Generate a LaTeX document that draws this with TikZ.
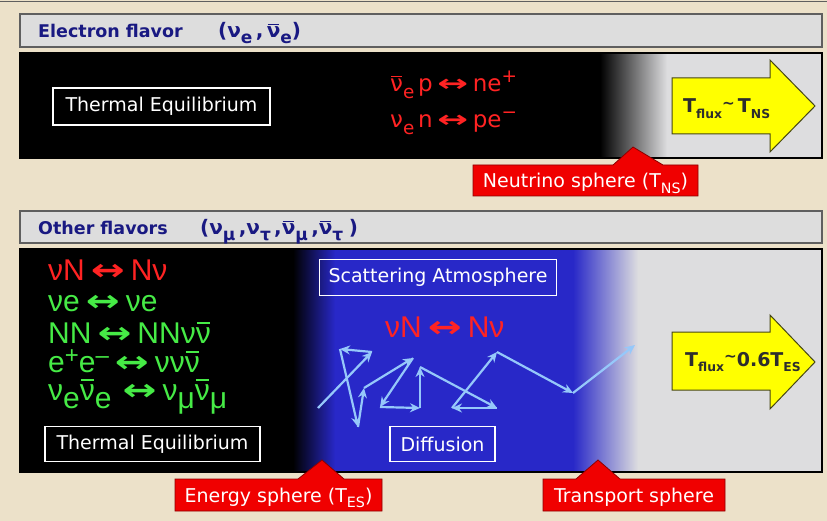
\documentclass[tikz,border=0pt]{standalone}
\usepackage{fontspec}
\setmainfont{DejaVu Sans}
\newfontfamily\libf{Liberation Sans}
\newfontfamily\dejf{DejaVu Sans}
\usepackage{graphicx}
\usetikzlibrary{arrows.meta}
\definecolor{bgtan}{RGB}{236,225,201}
\definecolor{hdrgray}{RGB}{221,221,221}
\definecolor{hdrline}{RGB}{95,95,95}
\definecolor{panelgray}{RGB}{221,221,223}
\definecolor{deepblue}{RGB}{40,40,200}
\definecolor{navy}{RGB}{25,25,130}
\definecolor{rxred}{RGB}{255,35,35}
\definecolor{rxgreen}{RGB}{70,235,70}
\definecolor{zzblue}{RGB}{150,200,250}
\definecolor{callred}{RGB}{240,0,0}
\definecolor{callline}{RGB}{140,0,0}
\definecolor{arrowyellow}{RGB}{255,255,0}
\definecolor{arrowline}{RGB}{70,70,20}
\definecolor{darktext}{RGB}{45,45,45}
\newlength\nbw
\newcommand\nb{\leavevmode\settowidth\nbw{ν}\makebox[\nbw][l]{\makebox[\nbw][c]{\raisebox{0.64em}{\rule{0.85\nbw}{0.075em}}}\hspace*{-\nbw}ν}}
\newcommand\lo[2][0.8]{\raisebox{-0.28em}{\scalebox{#1}{#2}}}
\newcommand\hi[2][0.8]{\raisebox{0.42em}{\scalebox{#1}{#2}}}
\newcommand\hilow[1]{\raisebox{0.3em}{\scalebox{0.8}{#1}}}
\newcommand\lra[1][1.35]{\hspace{0.2em}{\dejf\bfseries\scalebox{#1}[1]{↔}}\hspace{0.2em}}
\newcommand\tl{\raisebox{0.25em}{\scalebox{0.8}{\textasciitilde}}}
\begin{document}
\begin{tikzpicture}[x=1pt,y=-1pt,
  hdrbar/.style={fill=hdrgray,draw=hdrline,line width=1.2pt},
  hdrtext/.style={anchor=base west,inner sep=0pt,text=navy,font=\bfseries\fontsize{17.5}{20}\selectfont},
  hdrsym/.style={anchor=base west,inner sep=0pt,text=navy,font=\bfseries\fontsize{20}{22}\selectfont},
  wbox/.style={draw=white,line width=1.6pt,text=white,inner sep=0pt,font=\fontsize{19}{22}\selectfont},
  rxtop/.style={anchor=base west,inner sep=0pt,text=rxred,font=\fontsize{23}{26}\selectfont},
  rxbig/.style={anchor=base west,inner sep=0pt,font=\libf\fontsize{30}{32}\selectfont},
  yarrow/.style={fill=arrowyellow,draw=arrowline,line width=1pt,line join=miter},
  arrtext/.style={anchor=base west,inner sep=0pt,text=darktext,font=\bfseries\fontsize{19}{22}\selectfont},
  callout/.style={fill=callred,draw=callline,line width=0.8pt},
  calltext/.style={anchor=base,text=white,inner sep=0pt,font=\fontsize{19}{22}\selectfont},
  zz/.style={draw=zzblue,line width=2.2pt,-{Stealth[length=10pt,width=9pt]}},
]
\useasboundingbox (0,0) rectangle (827,521);
\fill[bgtan] (0,0) rectangle (827,521);
\draw[hdrline,line width=1.2pt] (0,1.5) -- (827,1.5);

% header 1
\draw[hdrbar] (20,14) rectangle (822,47);
\node[hdrtext] (h1a) at (38,38) {Electron flavor};
\node[hdrsym] (h1b) at (218,38) {(ν\lo[0.85]{e}\,,\,\nb\lo[0.85]{e})};

% panel 1
\fill[black] (20,53) rectangle (600,158);
\shade[left color=black,right color=panelgray] (600,53) rectangle (667,158);
\fill[panelgray] (667,53) rectangle (822,158);
\draw[line width=1.5pt] (20,53) rectangle (822,158);

\node[wbox,minimum width=217pt,minimum height=37pt] (te1) at (161.5,106.5) {Thermal Equilibrium};
\node[rxtop] (r1) at (390,92) {\nb\lo{e}\,p\lra[1.6]ne\hi{+}};
\node[rxtop] (r2) at (390,128) {ν\lo{e}\,n\lra[1.6]pe\hi{−}};

\draw[yarrow] (672,78) -- (770,78) -- (770,60) -- (815,106) -- (770,152) -- (770,134) -- (672,134) -- cycle;
\node[arrtext] (t1) at (683,113) {T\lo[0.65]{flux}\tl\,T\lo[0.65]{NS}};

\draw[callout] (473,165) -- (613,165) -- (633,147) -- (663,165) -- (698,165) -- (698,196) -- (473,196) -- cycle;
\node[calltext] (c1) at (585.5,188) {Neutrino sphere (T\lo[0.75]{NS})};

% header 2
\draw[hdrbar] (20,211) rectangle (822,243);
\node[hdrtext] (h2a) at (38,235) {Other flavors};
\node[hdrsym] (h2b) at (200,235) {(ν\lo[0.85]{μ}\,,ν\lo[0.85]{τ}\,,\nb\lo[0.85]{μ}\,,\nb\lo[0.85]{τ}\;)};

% panel 2
\fill[black] (20,249) rectangle (293,472);
\shade[left color=black,right color=deepblue] (293,249) rectangle (335,472);
\fill[deepblue] (335,249) rectangle (573,472);
\shade[left color=deepblue,right color=panelgray] (573,249) rectangle (638,472);
\fill[panelgray] (638,249) rectangle (822,472);
\draw[line width=1.5pt] (20,249) rectangle (822,472);

\node[rxbig,text=rxred] (g1) at (48,280) {νN\lra Nν};
\node[rxbig,text=rxgreen] (g2) at (48,311) {νe\lra νe};
\node[rxbig,text=rxgreen] (g3) at (48,343) {NN\lra NNν\nb};
\node[rxbig,text=rxgreen] (g4) at (48,372) {e\hilow{+}e\hilow{–}\lra νν\nb};
\node[rxbig,text=rxgreen] (g5) at (48,400) {ν\lo[1]{e}\nb\lo[1]{e}\,\lra ν\lo[1]{μ}\nb\lo[1]{μ}};

\node[wbox,minimum width=215pt,minimum height=35pt] (te2) at (152.5,444) {Thermal Equilibrium};
\node[wbox,minimum width=237pt,minimum height=36pt] (sa) at (438,277.5) {Scattering Atmosphere};
\node[wbox,minimum width=105pt,minimum height=35pt] (df) at (442.5,444) {Diffusion};
\node[rxbig,text=rxred] (g6) at (385,337) {νN\lra Nν};

% random walk
\coordinate (z1) at (318,408);
\coordinate (z2) at (372,352);
\coordinate (z3) at (340,349);
\coordinate (z4) at (358,427);
\coordinate (z5) at (364,388);
\coordinate (z6) at (413,358);
\coordinate (z7) at (380,407);
\coordinate (z8) at (420,408);
\coordinate (z9) at (420,367);
\coordinate (z10) at (497,408);
\coordinate (z11) at (452,408);
\coordinate (z12) at (497,352);
\coordinate (z13) at (573,393);
\coordinate (z14) at (635,345);
\draw[zz] (z1) -- (z2);
\draw[zz] (z2) -- (z3);
\draw[zz] (z3) -- (z4);
\draw[zz] (z4) -- (z5);
\draw[zz] (z5) -- (z6);
\draw[zz] (z6) -- (z7);
\draw[zz] (z7) -- (z8);
\draw[zz] (z8) -- (z9);
\draw[zz] (z9) -- (z10);
\draw[zz] (z10) -- (z11);
\draw[zz] (z11) -- (z12);
\draw[zz] (z12) -- (z13);
\draw[zz] (z13) -- (z14);

\draw[yarrow] (672,332) -- (770,332) -- (770,315) -- (815,362) -- (770,409) -- (770,390) -- (672,390) -- cycle;
\node[arrtext] (t2) at (685,366) {T\lo[0.65]{flux}\tl 0.6T\lo[0.65]{ES}};

\draw[callout] (175,479) -- (298,479) -- (322,460) -- (344,479) -- (382,479) -- (382,511) -- (175,511) -- cycle;
\node[calltext] (c2) at (278.5,502) {Energy sphere (T\lo[0.75]{ES})};
\draw[callout] (543,479) -- (576,479) -- (598,460) -- (620,479) -- (725,479) -- (725,511) -- (543,511) -- cycle;
\node[calltext] (c3) at (634,502) {Transport sphere};
\end{tikzpicture}
\end{document}
